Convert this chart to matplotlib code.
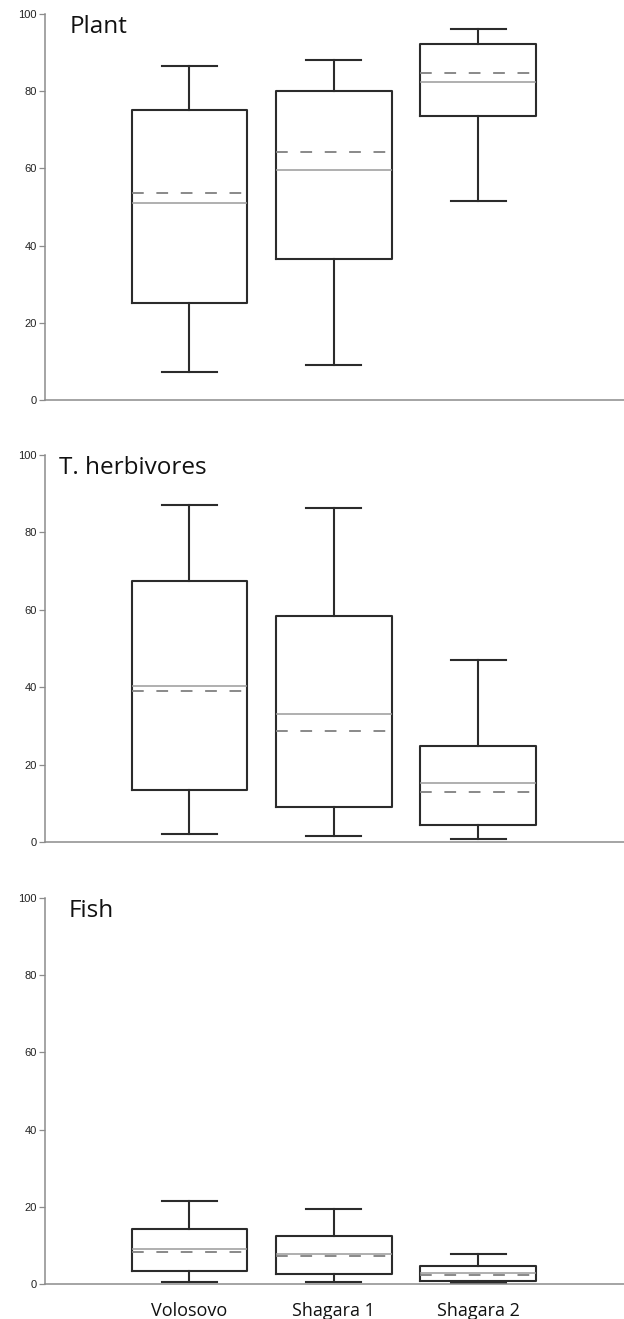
import matplotlib.pyplot as plt

sites = ["Volosovo", "Shagara 1", "Shagara 2"]
panels = ["Plant", "T. herbivores", "Fish"]

# per site: whisker low, Q1, median, Q3, whisker high, mean
plant_low = [7.3, 9.0, 51.6]
plant_q1 = [25.2, 36.4, 73.7]
plant_med = [51.1, 59.6, 82.3]
plant_q3 = [75.2, 80.1, 92.3]
plant_high = [86.4, 88.1, 96.1]
plant_mean = [53.6, 64.2, 84.7]

herb_low = [2.1, 1.6, 0.8]
herb_q1 = [13.4, 9.0, 4.3]
herb_med = [40.2, 33.0, 15.2]
herb_q3 = [67.5, 58.3, 24.8]
herb_high = [87.1, 86.3, 47.0]
herb_mean = [38.9, 28.8, 12.9]

fish_low = [0.6, 0.6, 0.2]
fish_q1 = [3.4, 2.7, 0.8]
fish_med = [9.0, 7.9, 2.8]
fish_q3 = [14.2, 12.4, 4.7]
fish_high = [21.5, 19.5, 7.9]
fish_mean = [8.2, 7.3, 2.3]

yticks = [0, 20, 40, 60, 80, 100]


def make_stats(low, q1, med, q3, high, mean):
    stats = []
    for i in range(len(sites)):
        stats.append({"whislo": low[i], "q1": q1[i], "med": med[i], "q3": q3[i],
                      "whishi": high[i], "mean": mean[i], "fliers": []})
    return stats


all_stats = [
    make_stats(plant_low, plant_q1, plant_med, plant_q3, plant_high, plant_mean),
    make_stats(herb_low, herb_q1, herb_med, herb_q3, herb_high, herb_mean),
    make_stats(fish_low, fish_q1, fish_med, fish_q3, fish_high, fish_mean),
]

W, H = 624, 1319
fig = plt.figure(figsize=(W / 100, H / 100), dpi=100)
fig.patch.set_facecolor("white")

# pixel boxes (top, bottom) of each panel, and where the panel titles start
panel_px = [(14, 400), (455, 842), (898, 1284)]
title_x_px = [70, 59, 69]
left_px, right_px = 45, 624

line_col = "#2b2b2b"
spine_col = "#8c8c8c"

for k, (top, bot) in enumerate(panel_px):
    ax = fig.add_axes([left_px / W, (H - bot) / H, (right_px - left_px) / W, (bot - top) / H])
    ax.bxp(all_stats[k], positions=[1, 2, 3], widths=0.8, capwidths=0.38,
           showmeans=True, meanline=True, showfliers=False,
           boxprops=dict(color=line_col, linewidth=1.5),
           whiskerprops=dict(color=line_col, linewidth=1.5),
           capprops=dict(color=line_col, linewidth=1.5),
           medianprops=dict(color="#9a9a9a", linewidth=1.1),
           meanprops=dict(color="#808080", linewidth=1.3, linestyle=(0, (6.5, 7))))
    ax.set_xlim(0, 4.01)
    ax.set_ylim(0, 100)
    ax.set_yticks(yticks)
    ax.set_yticklabels([str(t) for t in yticks], fontsize=8, family="Liberation Sans",
                       color="#222222")
    ax.tick_params(axis="y", direction="out", length=4.3, width=0.9, color=spine_col, pad=1.5)
    ax.spines["top"].set_visible(False)
    ax.spines["right"].set_visible(False)
    for s in ["left", "bottom"]:
        ax.spines[s].set_color(spine_col)
        ax.spines[s].set_linewidth(1.1)
    if k == 2:
        ax.set_xticks([1, 2, 3])
        ax.set_xticklabels(sites, fontsize=13, family="Open Sans", color="#111111")
        ax.tick_params(axis="x", length=0, pad=13)
    else:
        ax.set_xticks([])
    ax.text((title_x_px[k] - left_px) / (right_px - left_px), 0.997, panels[k],
            transform=ax.transAxes, fontsize=17.5, family="Open Sans",
            va="top", ha="left", color="#111111")

fig.savefig("out.png", dpi=100)
